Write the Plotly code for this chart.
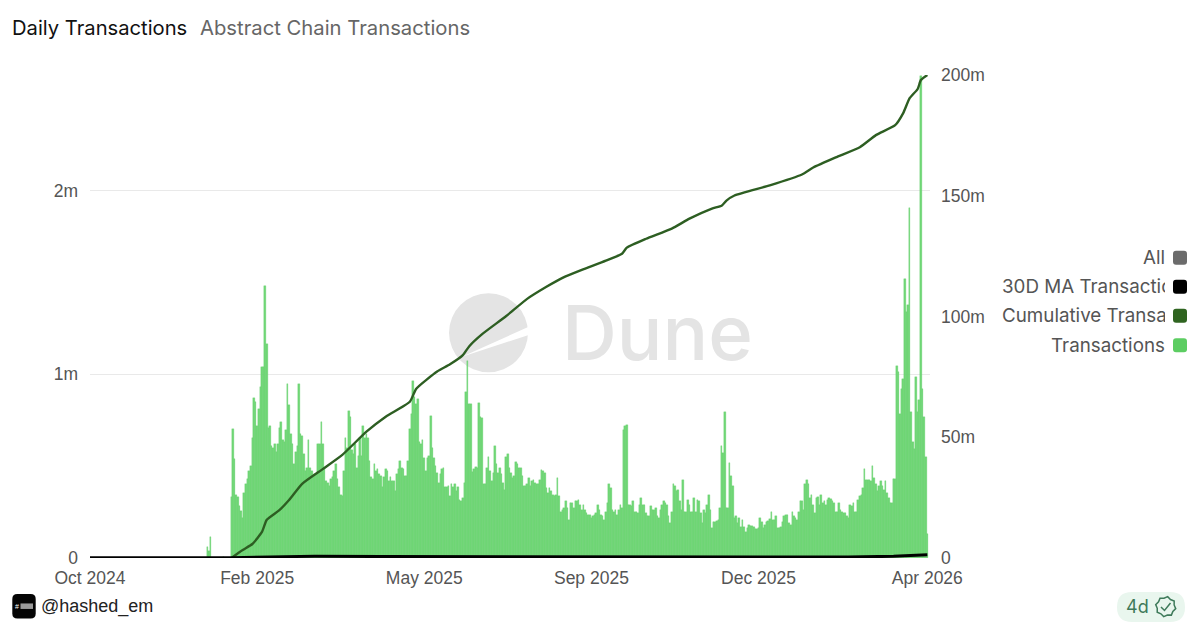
import numpy as np
import pandas as pd
import plotly.graph_objects as go

# ---------- data ----------
launch_date = "2025-01-27"
# daily transactions, thousands, one value per day from launch_date
transactions_k = [
    330,700,540,345,330,285,255,220,355,400,
    430,475,500,655,870,850,720,810,930,1040,
    1040,1480,1165,710,720,610,600,620,575,620,
    710,740,640,630,695,945,830,675,620,510,
    575,610,945,675,665,565,475,490,640,490,
    475,440,455,455,620,620,740,620,490,420,
    410,390,430,440,475,510,430,385,345,340,
    475,655,600,800,765,585,565,620,490,555,
    655,555,720,655,675,655,530,440,430,510,
    475,485,455,445,385,440,485,475,420,440,
    420,420,365,455,485,530,490,485,445,445,
    530,700,785,965,875,840,865,630,620,640,
    545,475,545,555,775,600,545,500,465,410,
    455,485,490,385,385,390,340,400,385,400,
    365,385,317,308,327,410,905,1070,840,840,
    468,483,495,490,845,767,763,400,400,490,
    547,473,418,464,611,510,464,490,455,409,
    372,547,565,490,464,437,446,520,510,490,
    490,446,391,391,400,437,391,418,427,409,
    400,400,427,477,473,464,382,354,382,363,
    345,336,345,437,336,253,262,272,308,272,
    207,299,299,272,308,308,317,290,262,290,
    262,244,235,235,217,231,235,244,290,262,
    235,226,207,253,299,400,382,262,253,262,
    235,262,290,272,694,716,721,290,290,281,
    312,253,253,244,290,327,290,290,244,226,
    226,281,262,262,272,226,217,262,290,308,
    299,290,226,189,253,400,391,363,372,308,
    262,427,253,253,317,290,253,253,327,253,
    317,308,244,189,262,244,290,345,262,161,
    198,198,202,207,272,611,574,794,272,272,
    519,446,391,217,226,189,217,171,207,171,
    143,165,180,174,174,171,158,158,161,220,
    198,165,180,194,202,211,253,207,207,226,
    161,161,171,198,231,235,235,189,180,253,
    226,217,207,253,308,312,262,400,427,400,
    327,341,290,244,327,330,290,341,299,308,
    290,317,327,323,312,299,253,253,299,262,
    253,244,244,226,217,290,281,299,253,253,
    317,336,345,382,483,427,427,427,418,501,
    437,400,363,391,418,391,372,418,354,327,
    299,299,429,429,1046,1013,785,922,976,1520,
    1341,1378,1907,794,630,593,985,794,858,2620,
    922,766,547,128,
]
pre_launch_dates = ["2025-01-12", "2025-01-13", "2025-01-14", "2025-01-22"]
pre_launch_k = [58, 40, 113, 8]

cumulative_dates = [
    "2025-01-27","2025-02-03","2025-02-09","2025-02-15","2025-02-18","2025-02-26",
    "2025-03-04","2025-03-12","2025-03-25","2025-04-06","2025-04-21","2025-05-03",
    "2025-05-18","2025-05-22","2025-06-04","2025-06-12","2025-06-20","2025-06-24",
    "2025-07-02","2025-07-17","2025-07-30","2025-08-11","2025-08-21","2025-09-02",
    "2025-09-17","2025-09-27","2025-09-30","2025-10-12","2025-10-28","2025-11-08",
    "2025-11-22","2025-11-28","2025-12-01","2025-12-06","2025-12-28","2026-01-17",
    "2026-01-24","2026-02-07","2026-02-22","2026-03-04","2026-03-16","2026-03-21",
    "2026-03-25","2026-03-30","2026-04-01","2026-04-05",
]
cumulative_m = [
    0,3.3,5.8,10.8,15.8,19.9,
    24.1,30.7,36.9,42.7,52.3,58.5,
    64.7,70.1,77.2,80.2,84.0,87.7,
    92.7,100.2,107.3,112.3,116.0,119.3,
    123.1,126.0,128.5,132.2,136.4,140.5,
    144.7,145.9,148.0,150.1,154.3,158.8,
    161.7,165.9,170.1,175.1,179.2,184.2,
    190.4,194.2,197.9,200.0,
]
ma_dates = ["2024-10-31","2025-01-27","2025-02-20","2025-03-20","2025-05-01","2025-07-01",
            "2025-09-15","2025-12-01","2026-02-15","2026-03-15","2026-04-05"]
ma_m = [0.1,0.1,0.45,0.75,0.6,0.55,0.4,0.3,0.4,0.7,1.3]

x_tick_dates = ["2024-10-31","2025-02-12","2025-05-27","2025-09-08","2025-12-21","2026-04-05"]
left_ticks_k = [0, 1000, 2000]
left_tick_labels = ["0", "1m", "2m"]
right_ticks_m = [0, 50, 100, 150, 200]
right_tick_labels = ["0", "50m", "100m", "150m", "200m"]
legend_labels = ["All", "30D MA Transactions", "Cumulative Transactions", "Transactions"]
legend_colors = ["#6b6b6b", "#000000", "#2f6420", "#5ccd62"]

# ---------- layout helpers (pixel position to paper coordinates) ----------
L, R, T, B = 90, 930, 74.5, 558
def X(p): return (p - L) / (R - L)
def Y(p): return (B - p) / (B - T)

def rounded(x0, y0, x1, y1, r, fill):
    path = (f"M{X(x0+r)},{Y(y0)} L{X(x1-r)},{Y(y0)} Q{X(x1)},{Y(y0)} {X(x1)},{Y(y0+r)} "
            f"L{X(x1)},{Y(y1-r)} Q{X(x1)},{Y(y1)} {X(x1-r)},{Y(y1)} "
            f"L{X(x0+r)},{Y(y1)} Q{X(x0)},{Y(y1)} {X(x0)},{Y(y1-r)} "
            f"L{X(x0)},{Y(y0+r)} Q{X(x0)},{Y(y0)} {X(x0+r)},{Y(y0)} Z")
    return dict(type="path", xref="paper", yref="paper", path=path,
                fillcolor=fill, line=dict(width=0), layer="above")

def polygon(points, fill="rgba(0,0,0,0)", line=None, close=True, layer="below"):
    path = "M" + " L".join(f"{X(a)},{Y(b)}" for a, b in points) + (" Z" if close else "")
    return dict(type="path", xref="paper", yref="paper", path=path, fillcolor=fill,
                line=line or dict(width=0), layer=layer)

# ---------- traces ----------
launch_days = pd.date_range(launch_date, periods=len(transactions_k), freq="D")
fig = go.Figure()
bar_x = list(pre_launch_dates) + [d.strftime("%Y-%m-%d") for d in launch_days]
bar_y = list(pre_launch_k) + list(transactions_k)
fig.add_trace(go.Bar(x=bar_x, y=bar_y, name="Transactions", yaxis="y",
                     marker=dict(color="#70d776", line=dict(width=0.35, color="#5fcb66")),
                     showlegend=False))
fig.add_trace(go.Scatter(x=cumulative_dates, y=cumulative_m, name="Cumulative Transactions",
                         yaxis="y2", mode="lines",
                         line=dict(color="#2d5e22", width=2.4, shape="spline", smoothing=0.5),
                         showlegend=False))
fig.add_trace(go.Scatter(x=ma_dates, y=ma_m, name="30D MA Transactions", yaxis="y2",
                         mode="lines", line=dict(color="#000000", width=3), cliponaxis=False,
                         showlegend=False))

# ---------- decorations ----------
shapes = []
# watermark circle with its white sweep
cx, cy, cr = 488.5, 332.5, 39.5
shapes.append(dict(type="circle", xref="paper", yref="paper", x0=X(cx-cr), x1=X(cx+cr),
                   y0=Y(cy+cr), y1=Y(cy-cr), fillcolor="#e4e4e4", line=dict(width=0), layer="below"))
shapes.append(polygon([(462, 356.5), (531, 325.5), (531, 334)], fill="#ffffff"))

# legend swatches
legend_rows = [257.5, 286.5, 315.5, 345]
for py, col in zip(legend_rows, legend_colors):
    shapes.append(rounded(1173, py-7, 1187, py+7, 3, col))

# owner logo
shapes.append(rounded(12.3, 594, 35.7, 618.5, 5, "#050505"))
shapes.append(dict(type="rect", xref="paper", yref="paper", x0=X(20.5), x1=X(33), y0=Y(609), y1=Y(603.5),
                   fillcolor="#9a9a9a", line=dict(width=0), layer="above"))

# freshness pill and badge
shapes.append(rounded(1117, 592, 1185, 622, 15, "#e9f6ee"))
bx, by = 1165.7, 606.7
angles = np.linspace(0, 2*np.pi, 17)[:-1] + np.pi/16
badge = [(bx + (10.2 if k % 2 == 0 else 8.6)*np.cos(a), by + (10.2 if k % 2 == 0 else 8.6)*np.sin(a))
         for k, a in enumerate(angles)]
shapes.append(polygon(badge, line=dict(color="#3e7a5a", width=1.5), layer="above"))
shapes.append(polygon([(1161, 607), (1164.5, 610.5), (1170.5, 603)], line=dict(color="#3e7a5a", width=1.5),
                      close=False, layer="above"))

annotations = []
def text(px, py, s, size, color, anchor="left", family="Inter", **kw):
    annotations.append(dict(xref="paper", yref="paper", x=X(px), y=Y(py), text=s, showarrow=False,
                            xanchor=anchor, yanchor="middle",
                            font=dict(family=family, size=size, color=color, **kw.pop("fontkw", {})), **kw))

text(10, 26.8, "Daily Transactions", 20.2, "#111111")
text(197.5, 26.8, "Abstract Chain Transactions", 20.25, "#666666")
text(560, 332, "Dune", 76, "#e4e4e4", fontkw=dict(weight=500))
text(39, 607, "@hashed_em", 18, "#222222", family="Liberation Sans")
text(21, 606.3, "#", 7, "#ffffff", anchor="right", family="Liberation Sans")
text(1137, 606.5, "4d", 18, "#3e7a5a", anchor="center")

# legend rows: long names are cut off by the text box, as in the reference
text(1166.5, legend_rows[0], legend_labels[0], 18.8, "#555555", anchor="right")
text(1002, legend_rows[1], legend_labels[1], 18.8, "#555555", width=163, align="left", borderpad=0, borderwidth=0)
text(1002, legend_rows[2], legend_labels[2], 18.8, "#555555", width=163, align="left", borderpad=0, borderwidth=0)
text(1166.5, legend_rows[3], legend_labels[3], 18.8, "#555555", anchor="right")

tick_font = dict(family="Liberation Sans", size=17.5, color="#555555")
fig.update_layout(
    width=1200, height=632, autosize=False,
    margin=dict(l=L, r=1200-R, t=T, b=632-B, pad=0),
    paper_bgcolor="#ffffff", plot_bgcolor="rgba(0,0,0,0)",
    bargap=0, showlegend=False, hovermode="x",
    shapes=shapes, annotations=annotations,
    xaxis=dict(type="date", range=["2024-10-31", "2026-04-06 16:00"], tickmode="array",
               tickvals=x_tick_dates, tickformat="%b %Y", tickangle=0, showgrid=False,
               zeroline=False, showline=False, ticks="", tickfont=tick_font, ticklabelstandoff=7,
               automargin=False),
    yaxis=dict(range=[0, 2628], tickmode="array", tickvals=left_ticks_k, ticktext=left_tick_labels,
               showgrid=True, gridcolor="#e9e9e9", gridwidth=1, zeroline=False, showline=False,
               ticks="", tickfont=tick_font, ticklabelstandoff=11, automargin=False),
    yaxis2=dict(range=[0, 200], overlaying="y", side="right", tickmode="array",
                tickvals=right_ticks_m, ticktext=right_tick_labels, showgrid=False, zeroline=False,
                showline=False, ticks="", tickfont=tick_font, ticklabelstandoff=10, automargin=False),
)

fig.write_html("out.html", config=dict(displayModeBar=False),
               post_script="document.body.style.margin='0';document.body.style.overflow='hidden';")
